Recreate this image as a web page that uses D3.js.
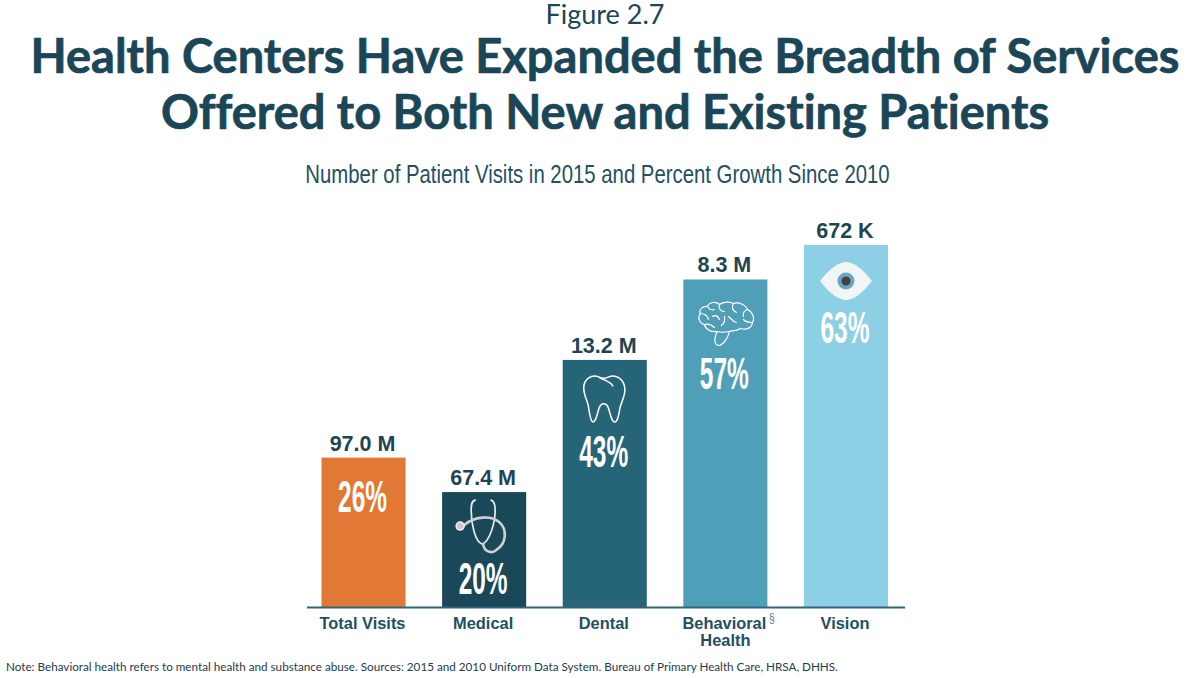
<!DOCTYPE html>
<html>
<head>
<meta charset="utf-8">
<script src="https://cdn.jsdelivr.net/npm/d3@7"></script>
<style>
  html, body { margin: 0; padding: 0; background: #fff; }
  svg { display: block; }
  text { font-variant-ligatures: none; }
  .title { font-family: Lato, sans-serif; font-weight: 700; fill: #1a4658; text-anchor: middle; }
  .visits { font-family: "Liberation Sans", Arial, sans-serif; font-weight: 700; font-size: 21.5px; fill: #1d4553; text-anchor: middle; }
  .pct { font-family: "Liberation Sans", sans-serif; font-weight: 700; fill: #fff; text-anchor: middle; }
  .tick text { font-family: "Liberation Sans", Arial, sans-serif; font-weight: 700; font-size: 16.4px; fill: #23505f; }
</style>
</head>
<body>
<svg id="chart" width="1200" height="678"></svg>
<script>
var categories = ['Total Visits', 'Medical', 'Dental', 'Behavioral Health', 'Vision'];
var growth = [26, 20, 43, 57, 63];
var visits = ['97.0 M', '67.4 M', '13.2 M', '8.3 M', '672 K'];
var barColors = ['#e27836', '#1b4858', '#266577', '#4f9fb9', '#8dd0e6'];

var svg = d3.select('#chart');

var x = d3.scaleBand().domain(categories).range([321.5, 888]).paddingInner(0.303).paddingOuter(0);
var y = d3.scaleLinear().domain([0, 63]).range([607, 245]);

// headings
svg.append('text').attr('class', 'title').attr('x', 605).attr('y', 24)
  .style('font-weight', 400).style('font-size', '27px').text('Figure 2.7');
svg.append('text').attr('class', 'title').attr('x', 605).attr('y', 73)
  .style('font-size', '47px').style('stroke', '#1a4658').style('stroke-width', 0.7)
  .text('Health Centers Have Expanded the Breadth of Services');
svg.append('text').attr('class', 'title').attr('x', 605).attr('y', 129)
  .style('font-size', '47px').style('stroke', '#1a4658').style('stroke-width', 0.7)
  .text('Offered to Both New and Existing Patients');
svg.append('text').attr('transform', 'translate(597.5,183) scale(0.848,1.1)')
  .style('font-family', '"Liberation Sans", sans-serif').style('font-size', '24px')
  .style('fill', '#24505f').style('text-anchor', 'middle')
  .text('Number of Patient Visits in 2015 and Percent Growth Since 2010');

// bars
svg.selectAll('.bar').data(categories).enter().append('rect')
  .attr('class', 'bar')
  .attr('x', function(d) { return x(d); })
  .attr('y', function(d, i) { return y(growth[i]); })
  .attr('width', x.bandwidth())
  .attr('height', function(d, i) { return y(0) - y(growth[i]); })
  .style('fill', function(d, i) { return barColors[i]; });

svg.selectAll('.visits').data(categories).enter().append('text')
  .attr('class', 'visits')
  .attr('x', function(d) { return x(d) + x.bandwidth() / 2 - 1; })
  .attr('y', function(d, i) { return y(growth[i]) - 7; })
  .text(function(d, i) { return visits[i]; });

// percent labels sit at a different depth in each bar, under the icon
var pctDepth = [54, 102, 107, 110, 98];
svg.selectAll('.pct').data(categories).enter().append('text')
  .attr('class', 'pct')
  .attr('transform', function(d, i) {
    return 'translate(' + (x(d) + x.bandwidth() / 2 - 1) + ',' + (y(growth[i]) + pctDepth[i]) + ') scale(0.72,1.32)';
  })
  .style('font-size', '34px')
  .text(function(d, i) { return growth[i] + '%'; });

// axis
var axis = svg.append('g').attr('transform', 'translate(0,' + y(0) + ')')
  .call(d3.axisBottom(x).tickSize(0).tickPadding(10));
axis.select('.domain').remove();
axis.append('line').attr('x1', 307).attr('x2', 905).attr('y1', 0.5).attr('y2', 0.5)
  .style('stroke', '#2f6676').style('stroke-width', 2);

axis.selectAll('.tick text').attr('dx', -1).each(function(d) {
  var words = d.split(' ');
  if (d.indexOf('Behavioral') !== 0) return;
  var t = d3.select(this).text(null);
  words.forEach(function(w, i) {
    t.append('tspan').attr('x', 0).attr('dy', i ? 17.5 : '0.71em').text(w);
  });
});
svg.append('text').attr('transform', 'translate(' + (x('Behavioral Health') + x.bandwidth() + 4.5) + ',622) scale(0.8,1)')
  .style('font-family', '"Liberation Sans", sans-serif').style('font-size', '13px')
  .style('fill', '#5a7f8c').style('text-anchor', 'middle').text('§');

// icons, drawn in local coordinates around the bar centre
function icon(name, dy) {
  var i = categories.indexOf(name);
  return svg.append('g')
    .attr('transform', 'translate(' + (x(name) + x.bandwidth() / 2) + ',' + (y(growth[i]) + dy) + ')')
    .style('fill', 'none').style('stroke', '#fff').style('stroke-linecap', 'round').style('stroke-linejoin', 'round');
}

var steth = icon('Medical', 42);
steth.append('path').style('stroke', '#e6ecee').style('stroke-width', 1.7)
  .attr('d', 'M-9,-34 C-13,-33 -13,-28 -13,-24 C-13,-10 -9,8 -2,10 C5,8 11,-10 11,-24 C11,-28 10,-33 7,-34');
steth.append('path').style('stroke', '#c9d3d6').style('stroke-width', 2.6)
  .attr('d', 'M-1,10 C0,18 8,20 12,16 C23,9 23,-5 15,-12 C7,-19 -10,-18 -20,-9');
steth.append('circle').attr('cx', -24).attr('cy', -8).attr('r', 4)
  .style('fill', '#cfc8c8').style('stroke', '#f2f2f2').style('stroke-width', 1.5);

var tooth = icon('Dental', 52);
tooth.style('stroke-width', 1.5).append('path')
  .attr('d', 'M-6,-35 C-13,-38 -21,-33 -21,-24 C-21,-15 -16,-10 -16,-3 C-15,3 -14,10 -12,10 C-9,10 -8,4 -6,-3 C-4,-10 2,-10 4,-3 C6,4 7,10 10,10 C13,10 14,3 15,-3 C16,-10 21,-15 20,-24 C19,-33 11,-38 4,-35 C2,-34 -2,-33 -6,-35 Z M-5,-34 C0,-32 6,-30 8,-26');

var brain = icon('Behavioral Health', 40);
brain.style('stroke-width', 1.2);
brain.append('path')
  .attr('d', 'M-8,12 C-14,13 -20,10 -21,5 C-26,4 -28,-2 -25,-6 C-27,-10 -22,-14 -18,-13 C-16,-18 -9,-18 -6,-15 C-2,-18 5,-18 8,-16 C14,-18 21,-14 22,-10 C27,-8 30,-1 27,3 C27,8 21,11 15,9 C11,12 7,11 4,12 C3,18 -2,25 -6,26 C-11,26 -12,20 -8,12 Z');
brain.append('path')
  .attr('d', 'M-18,-13 C-16,-10 -14,-9 -11,-10 M-6,-15 C-7,-11 -5,-8 -1,-8 M8,-16 C6,-12 7,-9 11,-7 M22,-10 C19,-9 17,-6 18,-3 M-25,-6 C-21,-6 -18,-4 -17,0 M-13,-3 C-9,-5 -7,-3 -6,0 M3,-3 C6,-1 7,2 11,3 M27,3 C23,3 20,2 18,0 M-4,6 C-1,4 0,1 -1,-3 M-21,5 C-17,4 -14,5 -11,8 M-8,12 C-5,13 -1,13 4,12');

var eye = icon('Vision', 36);
eye.append('path').style('fill', '#f2f5f6').style('stroke', 'none')
  .attr('d', 'M-26,0 C-16,-13 -7,-19 0,-19 C7,-19 16,-13 26,0 C16,13 7,19 0,19 C-7,19 -16,13 -26,0 Z');
eye.append('circle').attr('r', 8.5).style('fill', '#6aa5c4').style('stroke', 'none');
eye.append('circle').attr('r', 4.5).style('fill', '#4b3f3d').style('stroke', 'none');

// footnote
svg.append('text').attr('x', 6).attr('y', 671)
  .style('font-family', 'Lato, sans-serif').style('font-size', '11.7px').style('fill', '#1d3d4a')
  .text('Note: Behavioral health refers to mental health and substance abuse. Sources: 2015 and 2010 Uniform Data System. Bureau of Primary Health Care, HRSA, DHHS.');
</script>
</body>
</html>
